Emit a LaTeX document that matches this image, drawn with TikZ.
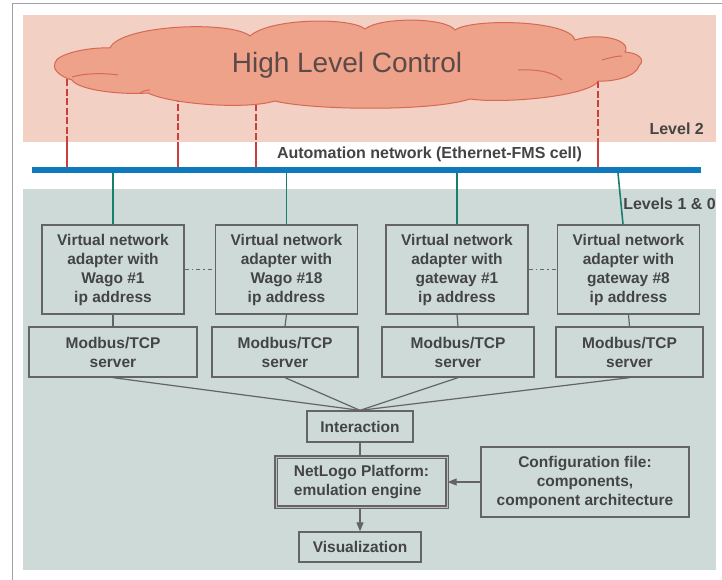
\documentclass[tikz,border=0pt]{standalone}
\usepackage{fontspec}
\setmainfont{Liberation Sans}
\usetikzlibrary{arrows.meta}
\definecolor{bandpink}{RGB}{242,208,196}
\definecolor{cloudfill}{RGB}{238,162,138}
\definecolor{cloudline}{RGB}{214,104,84}
\definecolor{cloudtext}{RGB}{92,74,72}
\definecolor{bandteal}{RGB}{205,218,216}
\definecolor{netblue}{RGB}{14,122,188}
\definecolor{linkteal}{RGB}{22,128,108}
\definecolor{linkred}{RGB}{204,62,62}
\definecolor{boxline}{RGB}{100,100,100}
\definecolor{boxtext}{RGB}{68,68,68}
\definecolor{framegray}{RGB}{160,160,160}
\tikzset{
  unitbox/.style={draw=boxline, line width=1.3pt, align=center, inner sep=0pt,
    text=boxtext, font=\bfseries\fontsize{15.5}{19}\selectfont},
  adapterbox/.style={unitbox, minimum width=142pt, minimum height=89pt},
  modbusbox/.style={unitbox, minimum height=50pt},
  wire/.style={draw=boxline, line width=1.2pt},
  netlink/.style={draw=linkteal, line width=1.6pt},
  hlclink/.style={draw=linkred, line width=1.6pt},
  bandlabel/.style={text=boxtext, font=\bfseries\fontsize{16}{19}\selectfont, inner sep=0pt}
}

\begin{document}
\begin{tikzpicture}[x=1pt,y=-1pt]
			%%%%% BACKGROUND %%%%%
			\fill[white] (0,0) rectangle (722,580);
			\useasboundingbox (0,0) rectangle (722,580);
			\draw[framegray, line width=1pt] (12,580) -- (12,4) -- (722,4);
			
			\fill[bandpink] (23,15) rectangle (716,142);
			\fill[bandteal] (23,189) rectangle (716,570);
			
			%%%%% LEVEL 2 %%%%%
			\node[fill=netblue, minimum width=669pt, minimum height=6pt, inner sep=0pt] (net) at (366.5,170) {};
			
			\foreach \x/\y in {67/70,178/95,256/95,598/72}{
				\draw[hlclink, dash pattern=on 7pt off 2.5pt] (\x,\y) -- (\x,142);
				\draw[hlclink] (\x,142) -- (net.north -| \x,0);
			}
			
			% cloud
			\draw[cloudline, fill=cloudfill, line width=1pt]
				(55,63) .. controls (56,54) and (88,47) .. (110,48)
				.. controls (120,25) and (230,20) .. (250,36)
				.. controls (270,18) and (350,17) .. (365,29)
				.. controls (380,17) and (445,17) .. (455,30)
				.. controls (472,18) and (570,20) .. (575,40)
				.. controls (600,32) and (632,40) .. (625,52)
				.. controls (645,54) and (643,63) .. (639,66)
				.. controls (636,77) and (612,82) .. (598,81)
				.. controls (590,96) and (505,104) .. (470,99)
				.. controls (430,112) and (310,110) .. (275,101)
				.. controls (245,110) and (170,104) .. (148,93)
				.. controls (120,95) and (78,90) .. (72,80)
				.. controls (58,76) and (52,68) .. (55,63) -- cycle;
			\draw[cloudline, line width=1pt] (72,77) .. controls (85,73) and (105,73) .. (118,75);
			\draw[cloudline, line width=1pt] (140,93) .. controls (143,91) and (146,90) .. (150,90);
			\draw[cloudline, line width=1pt] (518,70) .. controls (540,69) and (555,73) .. (562,80);
			\draw[cloudline, line width=1pt] (602,60) .. controls (609,58) and (616,56) .. (622,56);
			\node[text=cloudtext, font=\fontsize{28}{30}\selectfont, inner sep=0pt] (hlc) at (347,65) {High Level Control};
			
			\node[bandlabel, anchor=east] (lvl2) at (704,129) {Level 2};
			\node[bandlabel] (netlabel) at (429.5,154) {Automation network (Ethernet-FMS cell)};
			
			%%%%% LEVELS 1 & 0 %%%%%
			\node[bandlabel, anchor=east] (lvl10) at (716,204) {Levels 1 \& 0};
			
			\node[adapterbox] (a1) at (113,269.5) {Virtual network\\adapter with\\Wago \#1\\ip address};
			\node[adapterbox] (a2) at (286.5,269.5) {Virtual network\\adapter with\\Wago \#18\\ip address};
			\node[adapterbox] (a3) at (457,269.5) {Virtual network\\adapter with\\gateway \#1\\ip address};
			\node[adapterbox] (a4) at (628.5,269.5) {Virtual network\\adapter with\\gateway \#8\\ip address};
			
			\node[modbusbox, minimum width=168pt] (m1) at (113,352) {Modbus/TCP\\server};
			\node[modbusbox, minimum width=146pt] (m2) at (285,352) {Modbus/TCP\\server};
			\node[modbusbox, minimum width=152pt] (m3) at (458,352) {Modbus/TCP\\server};
			\node[modbusbox, minimum width=147pt] (m4) at (629.5,352) {Modbus/TCP\\server};
			
			\foreach \n in {1,2,3}
				\draw[netlink] (net.south -| a\n.north) -- (a\n.north);
			\coordinate (a4top) at ([xshift=-5.5pt]a4.north);
			\draw[netlink] (net.south -| 618,0) -- (a4top);
			
			\draw[wire, line width=1pt, dash pattern=on 4pt off 3pt on 1.5pt off 3pt] (a1.east) -- (a2.west);
			\draw[wire, line width=1pt, dash pattern=on 4pt off 3pt on 1.5pt off 3pt] (a3.east) -- (a4.west);
			
			\node[unitbox, minimum width=106pt, minimum height=31pt] (inter) at (360,426.5) {Interaction};
			\node[unitbox, align=left, minimum width=171pt, minimum height=50pt,
			      double=black!25, double distance=1pt] (engine) at (361.5,482) {NetLogo Platform:\\emulation engine};
			\node[unitbox, minimum width=208pt, minimum height=70pt] (config) at (585,482) {Configuration file:\\components,\\component architecture};
			\node[unitbox, minimum width=122pt, minimum height=30pt] (vis) at (360,547) {Visualization};
			
			\foreach \n in {1,...,4}{
				\draw[wire] (a\n.south) -- (m\n.north);
				\draw[wire] (m\n.south) -- (inter.north);
			}
			\draw[wire] (inter.south) -- (inter.south |- engine.north);
			\draw[wire, -{Triangle[length=9pt,width=7pt]}] (config.west) -- (engine.east);
			\draw[wire, -{Triangle[length=9pt,width=7pt]}] (engine.south -| inter.south) -- (vis.north);
			%%%%% END %%%%%
\end{tikzpicture}
\end{document}
